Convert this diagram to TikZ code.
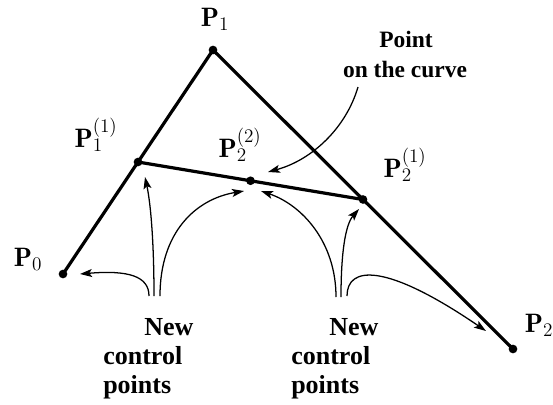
\documentclass[tikz,border=0pt]{standalone}
\usepackage{fontspec}
\newfontfamily\labelserif{Liberation Serif}
\usetikzlibrary{arrows.meta}
\begin{document}
\begin{tikzpicture}[x=0.75pt,y=-0.75pt,
  polyline/.style={line width=2.4pt},
  ptdot/.style={circle,fill=black,inner sep=0pt,minimum size=6.5pt},
  ptlabel/.style={anchor=base,inner sep=0pt,font=\fontsize{20}{24}\selectfont},
  txt/.style={inner sep=0pt,font=\labelserif\bfseries\fontsize{17.6}{22}\selectfont},
  txtb/.style={inner sep=0pt,anchor=base west,font=\labelserif\bfseries\fontsize{19.5}{22}\selectfont},
  pointer/.style={line width=0.95pt,-{Stealth[length=9pt,width=6pt,inset=2pt]}}]
\useasboundingbox (0,0) rectangle (553,404);
% control points
\coordinate (P0) at (63,274);
\coordinate (P1) at (213,50);
\coordinate (P2) at (513,349);
\coordinate (P11) at (138,162);
\coordinate (P21) at (363,199.5);
\coordinate (P22) at (250.5,180.75);
\draw[polyline] (P0) -- (P1) -- (P2);
\draw[polyline] (P11) -- (P21);
\node[ptdot] (d0) at (P0) {};
\node[ptdot] (d1) at (P1) {};
\node[ptdot] (d2) at (P2) {};
\node[ptdot] (d11) at (P11) {};
\node[ptdot] (d21) at (P21) {};
\node[ptdot] (d22) at (P22) {};
% labels
\node[ptlabel] (l1) at (215,26) {$\mathbf{P}_1$};
\node[ptlabel] (l0) at (28,266) {$\mathbf{P}_0$};
\node[ptlabel] (l2) at (539,332) {$\mathbf{P}_2$};
\node[ptlabel] (l11) at (96,147) {$\mathbf{P}_1^{(1)}$};
\node[ptlabel] (l22) at (240,157) {$\mathbf{P}_2^{(2)}$};
\node[ptlabel] (l21) at (405,177) {$\mathbf{P}_2^{(1)}$};
% texts
\node[txt,anchor=base] (pt1) at (406,47) {Point};
\node[txt,anchor=base] (pt2) at (405,77) {on the curve};
\node[txtb] (na1) at (144,335) {New};
\node[txtb] (na2) at (103,364) {control};
\node[txtb] (na3) at (103,393) {points};
\node[txtb] (nb1) at (329,335) {New};
\node[txtb] (nb2) at (291,364) {control};
\node[txtb] (nb3) at (291,393) {points};
% arrow ends
\coordinate (sc) at (358,87);
\coordinate (tc) at (268,172);
\coordinate (sa1) at (149,296);
\coordinate (ta1) at (80,274);
\coordinate (sa2) at (154,296);
\coordinate (ta2) at (145,177);
\coordinate (sa3) at (160,296);
\coordinate (ta3) at (244,191);
\coordinate (sb1) at (336,297);
\coordinate (tb1) at (261,191);
\coordinate (sb2) at (341,297);
\coordinate (tb2) at (359,209);
\coordinate (sb3) at (347,296);
\coordinate (tb3) at (486,331);
\draw[pointer] (sc) .. controls (346,128) and (312,160) .. (tc);
\draw[pointer] (sa1) .. controls (149,276) and (128,270) .. (ta1);
\draw[pointer] (sa2) .. controls (154,245) and (151,205) .. (ta2);
\draw[pointer] (sa3) .. controls (160,232) and (196,199) .. (ta3);
\draw[pointer] (sb1) .. controls (336,242) and (302,205) .. (tb1);
\draw[pointer] (sb2) .. controls (341,255) and (345,225) .. (tb2);
\draw[pointer] (sb3) .. controls (347,266) and (385,262) .. (tb3);
\end{tikzpicture}
\end{document}
